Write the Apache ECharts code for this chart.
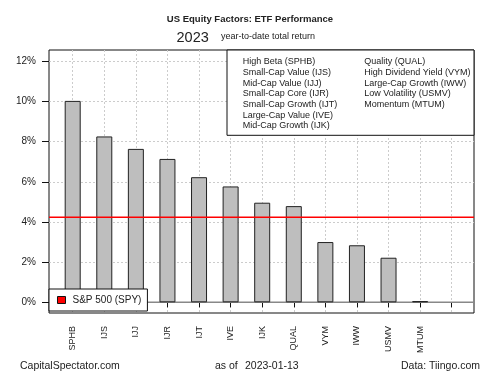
<!DOCTYPE html>
<html>
<head>
<meta charset="utf-8">
<script src="https://cdn.jsdelivr.net/npm/echarts@6/dist/echarts.min.js"></script>
<style>
  html, body { margin: 0; padding: 0; background: #fff; }
  #chart { width: 500px; height: 375px; }
</style>
</head>
<body>
<div id="chart"></div>
<script>
// 数据
const tickers = ["SPHB", "IJS", "IJJ", "IJR", "IJT", "IVE", "IJK", "QUAL", "VYM", "IWW", "USMV", "MTUM", ""];
const ytdReturn = [10.03, 8.26, 7.64, 7.14, 6.23, 5.77, 4.96, 4.79, 3.0, 2.84, 2.22, 0.06];
const spyReturn = [4.23];
const yTicks = [0, 2, 4, 6, 8, 10, 12];
const factorNamesLeft = [
  "High Beta (SPHB)", "Small-Cap Value (IJS)", "Mid-Cap Value (IJJ)",
  "Small-Cap Core (IJR)", "Small-Cap Growth (IJT)", "Large-Cap Value (IVE)",
  "Mid-Cap Growth (IJK)"
];
const factorNamesRight = [
  "Quality (QUAL)", "High Dividend Yield (VYM)", "Large-Cap Growth (IWW)",
  "Low Volatility (USMV)", "Momentum (MTUM)"
];

const font = "Liberation Sans, Arial, sans-serif";
const chart = echarts.init(document.getElementById("chart"));

const option = {
  animation: false,
  backgroundColor: "#fff",
  textStyle: { fontFamily: font },
  grid: [
    // 外框
    { left: 49, top: 50, width: 425, height: 263, show: true, borderColor: "#111", borderWidth: 1, backgroundColor: "transparent" },
    // y轴 0..12
    { left: 49, top: 61.3, width: 425, height: 241, show: false },
    // 柱状图
    { left: 72.7, top: 50, width: 379, height: 263, show: false }
  ],
  xAxis: [
    { gridIndex: 0, type: "value", min: 0, max: 1, show: false },
    { gridIndex: 1, type: "value", min: 0, max: 1, show: false },
    {
      gridIndex: 2,
      type: "category",
      data: tickers,
      boundaryGap: false,
      axisLine: { show: false },
      axisTick: { show: true, interval: 0, length: 5, lineStyle: { color: "#111" } },
      axisLabel: { interval: 0, rotate: 90, margin: 13, fontSize: 9, color: "#222", fontFamily: font },
      splitLine: { show: true, interval: 0, lineStyle: { color: "#ccc", type: [2, 2], width: 1 } }
    }
  ],
  yAxis: [
    { gridIndex: 0, type: "value", min: 0, max: 1, show: false },
    {
      gridIndex: 1,
      type: "value",
      min: yTicks[0],
      max: yTicks[yTicks.length - 1],
      interval: 2,
      axisLine: { show: false },
      axisTick: { show: true, length: 7, lineStyle: { color: "#111" } },
      axisLabel: { margin: 13, fontSize: 10, color: "#222", fontFamily: font, formatter: (v) => v + "%" },
      splitLine: { show: true, lineStyle: { color: "#ccc", type: [2, 2], width: 1 } }
    },
    { gridIndex: 2, type: "value", min: -0.533, max: 12.565, show: false }
  ],
  legend: {
    data: [{ name: "S&P 500 (SPY)", icon: "rect" }],
    left: 49,
    top: 289,
    width: 98,
    padding: [6, 6, 6, 8],
    itemWidth: 8,
    itemHeight: 7,
    itemGap: 5,
    backgroundColor: "#fff",
    borderColor: "#111",
    borderWidth: 1,
    borderRadius: 0,
    itemStyle: { color: "#f00", borderColor: "#111", borderWidth: 1 },
    textStyle: { fontSize: 10, color: "#222", fontFamily: font, padding: [0, 0, 0, 2] }
  },
  series: [
    {
      name: "zero",
      type: "line",
      xAxisIndex: 1,
      yAxisIndex: 1,
      data: [[0, 0], [1, 0]],
      symbol: "none",
      lineStyle: { color: "#888", width: 1.5 },
      z: 1
    },
    {
      name: "ETF",
      type: "bar",
      xAxisIndex: 2,
      yAxisIndex: 2,
      data: ytdReturn,
      barWidth: 16,
      clip: false,
      itemStyle: { color: "#bebebe", borderColor: "#222", borderWidth: 1 },
      z: 2
    },
    {
      name: "S&P 500 (SPY)",
      type: "line",
      xAxisIndex: 1,
      yAxisIndex: 1,
      data: [[0, spyReturn[0]], [1, spyReturn[0]]],
      symbol: "none",
      lineStyle: { color: "#f00", width: 1.5 },
      itemStyle: { color: "#f00" },
      z: 3
    }
  ],
  graphic: [
    { type: "text", left: "center", top: 14, style: { text: "US Equity Factors: ETF Performance", font: "bold 9.5px " + font, fill: "#222" } },
    { type: "text", x: 176.5, y: 30, style: { text: "2023", font: "14.5px " + font, fill: "#222" } },
    { type: "text", x: 221, y: 32, style: { text: "year-to-date total return", font: "9px " + font, fill: "#222" } },
    {
      type: "rect",
      shape: { x: 227, y: 50, width: 247, height: 85.3 },
      style: { fill: "#fff", stroke: "#111", lineWidth: 1 },
      z: 10
    },
    {
      type: "text", x: 242.7, y: 56.4, z: 11,
      style: { text: factorNamesLeft.join("\n"), font: "9px " + font, lineHeight: 10.7, fill: "#222" }
    },
    {
      type: "text", x: 364.3, y: 56.4, z: 11,
      style: { text: factorNamesRight.join("\n"), font: "9px " + font, lineHeight: 10.7, fill: "#222" }
    },
    { type: "text", x: 20, y: 361, style: { text: "CapitalSpectator.com", font: "10.5px " + font, fill: "#222" } },
    { type: "text", x: 215, y: 361, style: { text: "as of", font: "10.5px " + font, fill: "#222" } },
    { type: "text", x: 245, y: 361, style: { text: "2023-01-13", font: "10.5px " + font, fill: "#222" } },
    { type: "text", x: 401, y: 361, style: { text: "Data: Tiingo.com", font: "10.5px " + font, fill: "#222" } }
  ]
};

chart.setOption(option);
</script>
</body>
</html>
